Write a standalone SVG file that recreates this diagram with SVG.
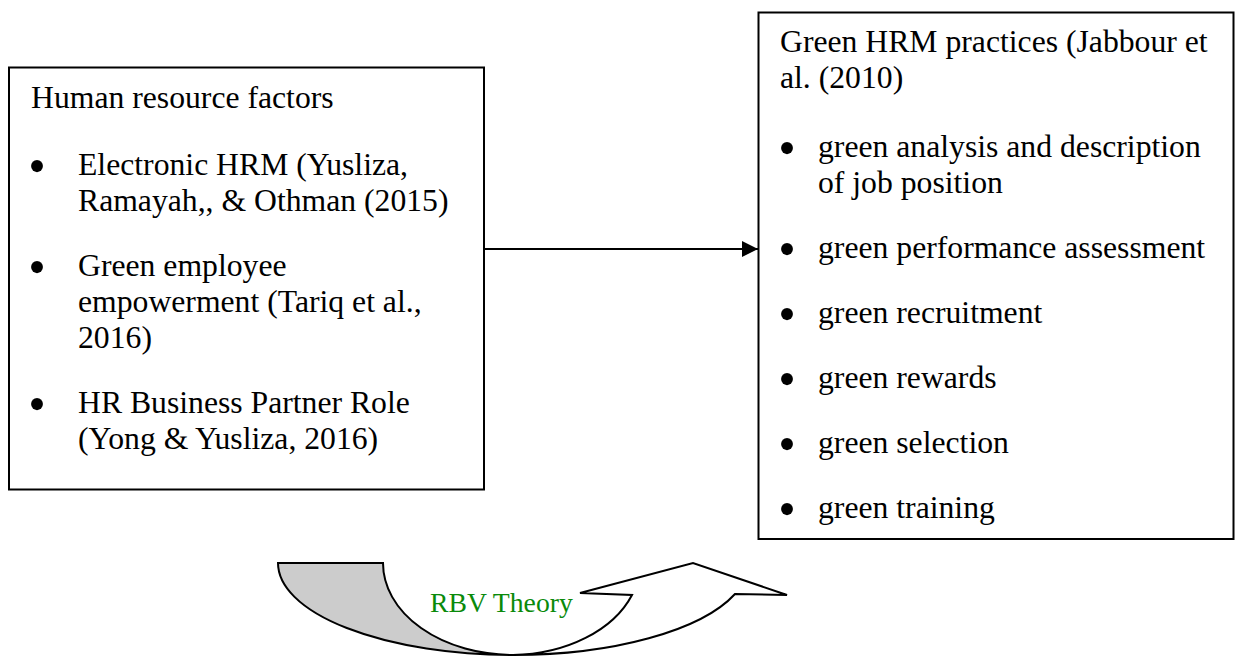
<svg xmlns="http://www.w3.org/2000/svg" width="1239" height="657" viewBox="0 0 1239 657">
  <style>
    .box { fill: #ffffff; stroke: #000000; stroke-width: 2; }
    .txt { font-family: "Liberation Serif", "Times New Roman", serif; font-size: 31.7px; fill: #000000; }
    .bul { font-family: "Liberation Serif", "Times New Roman", serif; font-size: 50px; fill: #000000; text-anchor: middle; }
    .link { stroke: #000000; stroke-width: 2; fill: none; }
    .band { stroke: #000000; stroke-width: 2; stroke-linejoin: miter; }
    .rbv { font-family: "Liberation Serif", "Times New Roman", serif; font-size: 27.7px; fill: #0a8a0a; }
  </style>
  <defs>
    <marker id="arrowhead" viewBox="0 0 16 16" refX="16" refY="8" markerWidth="16" markerHeight="16" markerUnits="userSpaceOnUse" orient="auto">
      <path d="M0,0 L16,8 L0,16 Z" fill="#000000"/>
    </marker>
  </defs>

  <rect width="1239" height="657" fill="#ffffff"/>

  <!-- Human resource factors -->
  <g id="hr-factors">
    <rect class="box" x="9" y="67.5" width="475" height="422"/>
    <text class="txt" x="31" y="108">Human resource factors</text>
    <text class="bul" x="37" y="183">•</text>
    <text class="txt" x="78" y="175">Electronic HRM (Yusliza,</text>
    <text class="txt" x="78" y="211">Ramayah,, &amp; Othman (2015)</text>
    <text class="bul" x="37" y="284">•</text>
    <text class="txt" x="78" y="276">Green employee</text>
    <text class="txt" x="78" y="312">empowerment (Tariq et al.,</text>
    <text class="txt" x="78" y="348">2016)</text>
    <text class="bul" x="37" y="421">•</text>
    <text class="txt" x="78" y="413">HR Business Partner Role</text>
    <text class="txt" x="78" y="449">(Yong &amp; Yusliza, 2016)</text>
  </g>

  <!-- Green HRM practices -->
  <g id="green-hrm">
    <rect class="box" x="758.5" y="12.5" width="475" height="526.5"/>
    <text class="txt" x="780" y="52">Green HRM practices (Jabbour et</text>
    <text class="txt" x="780" y="88">al. (2010)</text>
    <text class="bul" x="787" y="165">•</text>
    <text class="txt" x="818" y="157">green analysis and description</text>
    <text class="txt" x="818" y="193">of job position</text>
    <text class="bul" x="787" y="266">•</text>
    <text class="txt" x="818" y="258">green performance assessment</text>
    <text class="bul" x="787" y="331">•</text>
    <text class="txt" x="818" y="323">green recruitment</text>
    <text class="bul" x="787" y="396">•</text>
    <text class="txt" x="818" y="388">green rewards</text>
    <text class="bul" x="787" y="461">•</text>
    <text class="txt" x="818" y="453">green selection</text>
    <text class="bul" x="787" y="526">•</text>
    <text class="txt" x="818" y="518">green training</text>
  </g>

  <!-- RBV theory curved arrow -->
  <g id="rbv-theory">
    <!-- back (shaded) arm -->
    <path class="band" fill="#cccccc" d="M278,563 L383,563 A130,92 0 0 0 513,655 A235,92 0 0 1 278,563 Z"/>
    <!-- front arm with arrowhead -->
    <path class="band" fill="#ffffff" d="M513,655 A235,92 0 0 0 735,594 L787,595 L693,563 L580,593 L632,595 A130,92 0 0 1 513,655 Z"/>
    <text class="rbv" x="430" y="612">RBV Theory</text>
  </g>

  <!-- connectors -->
  <g id="connectors">
    <line class="link" x1="485" y1="249" x2="758" y2="249" marker-end="url(#arrowhead)"/>
  </g>
</svg>
